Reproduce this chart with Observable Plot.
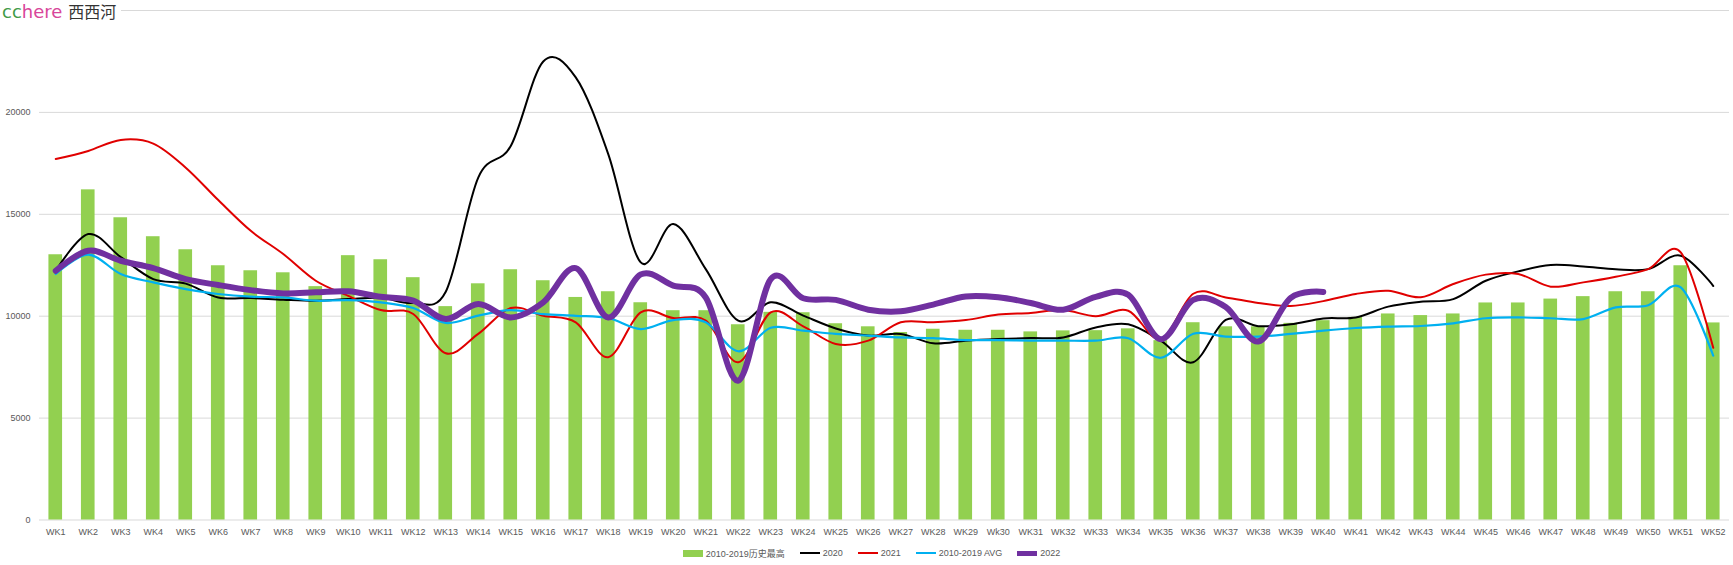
<!DOCTYPE html>
<html>
<head>
<meta charset="utf-8">
<script src="https://cdn.jsdelivr.net/npm/d3@7"></script>
<script src="https://cdn.jsdelivr.net/npm/@observablehq/plot@0.6"></script>
<style>
  html, body { margin: 0; padding: 0; background: #fff; }
  #wrap { position: relative; width: 1733px; height: 565px; overflow: hidden; font-family: 'Liberation Sans', Arial, 'Noto Sans CJK SC', sans-serif; }
  #title { position: absolute; left: 0; top: 0; height: 22px; line-height: 22px; padding: 0 5px 0 2px; background: #fff; white-space: nowrap; }
  #title .cc { color: #3f9a48; font-family: 'DejaVu Sans', sans-serif; font-size: 18px; }
  #title .here { color: #d8469a; font-family: 'DejaVu Sans', sans-serif; font-size: 18px; }
  #title .cn { color: #333; font-family: 'Noto Sans CJK SC', sans-serif; font-size: 16px; margin-left: 6px; }
  #legend { display: flex; justify-content: center; align-items: center; height: 22px; font-size: 9px; color: #595959; padding-left: 10px; }
  #legend .item { display: flex; align-items: center; margin: 0 7.5px; }
  #legend .sw { display: inline-block; width: 20px; margin-right: 3px; }
</style>
</head>
<body>
<div id="wrap">
  <div id="chart"></div>
  <div id="legend"></div>
  <div id="title"><span class="cc">cc</span><span class="here">here</span><span class="cn">西西河</span></div>
</div>
<script>
// Categories (tick labels as printed)
const weeks = ["WK1","WK2","WK3","WK4","WK5","WK6","WK7","WK8","WK9","WK10",
  "WK11","WK12","WK13","WK14","WK15","WK16","WK17","WK18","WK19","WK20",
  "WK21","WK22","WK23","WK24","WK25","WK26","WK27","WK28","WK29","Wk30",
  "WK31","WK32","WK33","WK34","WK35","WK36","WK37","WK38","WK39","WK40",
  "WK41","WK42","WK43","WK44","WK45","WK46","WK47","WK48","WK49","WK50",
  "WK51","WK52"];

// 2010-2019 历史最高 (bars)
const histMax = [13015,16200,14830,13900,13260,12475,12230,12130,11450,12970,
  12770,11890,10470,11590,12280,11740,10920,11200,10660,10270,
  10270,9580,10190,10170,9630,9480,9200,9360,9310,9310,
  9230,9280,9290,9380,8800,9680,9480,9480,9650,9780,
  9940,10110,10030,10110,10650,10650,10840,10960,11200,11200,
  12475,9670];

// 2020
const y2020 = [12230,14030,12900,11820,11600,10920,10890,10810,10760,10840,
  10900,10650,11200,16800,18350,22500,21720,17950,12640,14520,
  12310,9780,10680,10030,9400,9050,9130,8670,8800,8880,
  8930,8960,9450,9600,8800,7740,9820,9510,9600,9890,
  9940,10470,10710,10840,11740,12200,12510,12440,12300,12310,
  12970,11480];

// 2021
const y2021 = [17710,18110,18650,18470,17290,15700,14190,13050,11740,11000,
  10300,10110,8180,9130,10400,10020,9700,7990,10190,9910,
  9780,7740,10190,9500,8640,8800,9700,9700,9810,10080,
  10160,10300,10000,10270,8880,11100,10920,10650,10500,10740,
  11090,11250,10930,11580,12040,12070,11450,11660,11940,12310,
  13130,8450];

// 2010-2019 AVG
const avg = [12070,13020,12070,11660,11330,11090,10960,10920,10760,10790,
  10680,10400,9670,10030,10300,10100,10020,9910,9370,9810,
  9700,8280,9430,9290,9130,9050,8960,8920,8830,8830,
  8800,8800,8800,8920,7960,9140,9000,9000,9130,9290,
  9420,9490,9520,9650,9900,9940,9900,9860,10430,10540,
  11415,8060];

// 2022 (to WK40)
const y2022 = [12230,13210,12720,12360,11820,11530,11280,11120,11170,11220,
  10950,10760,9860,10600,9940,10680,12360,9940,12050,11500,
  10920,6840,11820,10880,10800,10320,10240,10570,10970,10930,
  10650,10320,10950,11050,8870,10800,10450,8760,10900,11190];

const yTicks = [0,5000,10000,15000,20000];
const gridTicks = [0,5000,10000,15000,20000,25000];

const series = [
  {name: "2020", values: y2020, color: "#000000", width: 2},
  {name: "2021", values: y2021, color: "#e00000", width: 2},
  {name: "2010-2019 AVG", values: avg, color: "#00b0f0", width: 2.2},
  {name: "2022", values: y2022, color: "#7030a0", width: 6}
];
const barName = "2010-2019历史最高";
const barColor = "#92d050";

const barRows = weeks.map((w, i) => ({week: w, value: histMax[i]}));
const lineRows = s => s.values.map((v, i) => ({week: weeks[i], value: v}));

const chart = Plot.plot({
  width: 1733,
  height: 542,
  marginLeft: 39,
  marginRight: 4,
  marginTop: 10,
  marginBottom: 22.5,
  style: {fontFamily: "'Liberation Sans', Arial, sans-serif", fontSize: "9px", color: "#595959", background: "#fff"},
  x: {type: "band", domain: weeks, paddingInner: 0.58, paddingOuter: 0.29, round: false, label: null},
  y: {domain: [0, 25000], label: null},
  marks: [
    Plot.gridY(gridTicks, {stroke: "#d9d9d9", strokeOpacity: 1, strokeWidth: 1}),
    Plot.barY(barRows, {x: "week", y: "value", fill: barColor}),
    ...series.map(s => Plot.line(lineRows(s), {
      x: "week", y: "value", stroke: s.color, strokeWidth: s.width,
      curve: "cardinal", tension: 0, strokeLinecap: "round", strokeLinejoin: "round"
    })),
    Plot.axisX({tickSize: 0, tickPadding: 9, fontSize: 9, label: null}),
    Plot.axisY(yTicks, {tickSize: 0, tickPadding: 9, fontSize: 9, label: null, tickFormat: d3.format("d")})
  ]
});
document.getElementById("chart").appendChild(chart);

// Legend
const legend = document.getElementById("legend");
const addItem = (label, swatchStyle) => {
  const it = document.createElement("div");
  it.className = "item";
  const sw = document.createElement("span");
  sw.className = "sw";
  Object.assign(sw.style, swatchStyle);
  const tx = document.createElement("span");
  tx.textContent = label;
  it.appendChild(sw);
  it.appendChild(tx);
  legend.appendChild(it);
};
addItem(barName, {height: "7px", background: barColor});
series.forEach(s => addItem(s.name, {height: (s.width > 3 ? 5 : 2) + "px", background: s.color}));
</script>
</body>
</html>
